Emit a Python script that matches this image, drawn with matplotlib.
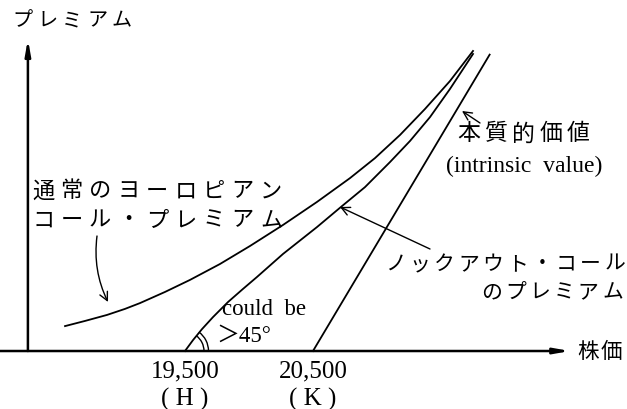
import matplotlib.pyplot as plt
from matplotlib.patches import Arc
from matplotlib.transforms import blended_transform_factory
import numpy as np

JP = ['Noto Sans CJK JP', 'DejaVu Sans']
SERIF = ['Liberation Serif', 'Noto Sans CJK JP']
plt.rcParams['font.family'] = SERIF

# 株価と各プレミアム（円）
barrier = 19500
strike = 20500

spot_euro = [18563, 18719, 18891, 19031, 19148, 19344, 19539, 19773, 20008,
             20266, 20531, 20789, 20984, 21180, 21375, 21570, 21750]
prem_euro = [116, 140, 168, 196, 223, 275, 331, 405, 489,
             587, 694, 805, 898, 1006, 1127, 1257, 1397]

spot_ko = [19500, 19563, 19633, 19719, 19836, 19953, 20063, 20266,
           20531, 20727, 20906, 21102, 21258, 21414, 21570, 21750]
prem_ko = [0, 51, 102, 158, 228, 289, 345, 452,
           577, 675, 763, 880, 978, 1089, 1220, 1383]

spot_intr = [20500, 21880]
prem_intr = [0, 1380]

tick_pos = [barrier, strike]
tick_nums = ['19,500', '20,500']
tick_names = ['( H )', '( K )']

W, H = 627, 410
fig = plt.figure(figsize=(W / 100, H / 100), dpi=100)
ax = fig.add_axes([0, 0, 1, 1])
ax.set_xlim(18055, 22953)
ax.set_ylim(-270, 1639)
ax.axis('off')


def px(x, y):
    # 画像上のピクセル位置 -> axes 座標
    return x / W, 1 - y / H


def spaced(text, x, y, pitch, size):
    # 和文を字間を空けて並べる
    for i, ch in enumerate(text):
        ax.text(*px(x + i * pitch, y), ch, transform=ax.transAxes,
                ha='left', va='center', fontsize=size, family=JP)


# 軸
ax.annotate('', xy=(22508, 0), xytext=(18055, 0),
            arrowprops=dict(arrowstyle='-|>,head_length=0.9,head_width=0.16',
                            lw=1.8, color='k', shrinkA=0, shrinkB=0))
ax.annotate('', xy=(18273, 1452), xytext=(18273, 0),
            arrowprops=dict(arrowstyle='-|>,head_length=0.9,head_width=0.16',
                            lw=1.8, color='k', shrinkA=0, shrinkB=0))

# 曲線
ax.plot(spot_euro, prem_euro, color='k', lw=1.3)
ax.plot(spot_ko, prem_ko, color='k', lw=1.3)
ax.plot(spot_intr, prem_intr, color='k', lw=1.3)

# H での角度の二重弧
p0 = ax.transData.transform((spot_ko[0], prem_ko[0]))
p1 = ax.transData.transform((spot_ko[1], prem_ko[1]))
ang = np.degrees(np.arctan2(p1[1] - p0[1], p1[0] - p0[0]))
c = p0 / fig.dpi
for r in (0.19, 0.235):
    ax.add_patch(Arc(c, 2 * r, 2 * r, theta1=0, theta2=ang,
                     transform=fig.dpi_scale_trans, color='k', lw=1.0))

# 目盛りラベル
bt = blended_transform_factory(ax.transData, ax.transAxes)
for xpos, num, name in zip(tick_pos, tick_nums, tick_names):
    ax.text(xpos, 1 - 371 / H, num, transform=bt, ha='center', va='center', fontsize=18)
    ax.text(xpos, 1 - 399 / H, name, transform=bt, ha='center', va='center', fontsize=18)

# 文字
spaced('プレミアム', 12, 21, 25, 14.5)
spaced('株価', 577, 352, 24, 15.5)
spaced('通常のヨーロピアン', 32, 191, 28.5, 16)
spaced('コール・プレミアム', 32, 220, 28.5, 16)
spaced('ノックアウト・コール', 385, 264, 24.4, 15)
spaced('のプレミアム', 481, 292, 24.2, 15)
spaced('本質的価値', 457, 134, 27.5, 16.5)
ax.text(*px(524, 166), '(intrinsic  value)', transform=ax.transAxes,
        ha='center', va='center', fontsize=17)
ax.text(*px(222, 310), 'could  be', transform=ax.transAxes,
        ha='left', va='center', fontsize=16.5)
ax.text(*px(216, 336), '＞45°', transform=ax.transAxes,
        ha='left', va='center', fontsize=16.5)

# 注記の矢印
arw = dict(arrowstyle='->,head_length=0.6,head_width=0.3', lw=1.0, color='k',
           shrinkA=0, shrinkB=0)
ax.annotate('', xy=px(108, 303), xytext=px(97, 237), xycoords='axes fraction',
            textcoords='axes fraction',
            arrowprops=dict(arw, connectionstyle='arc3,rad=0.15'))
ax.annotate('', xy=px(340, 208), xytext=px(430, 250), xycoords='axes fraction',
            textcoords='axes fraction', arrowprops=arw)
ax.annotate('', xy=px(462, 112), xytext=px(480, 124), xycoords='axes fraction',
            textcoords='axes fraction', arrowprops=arw)

fig.savefig('out.png', dpi=100)
